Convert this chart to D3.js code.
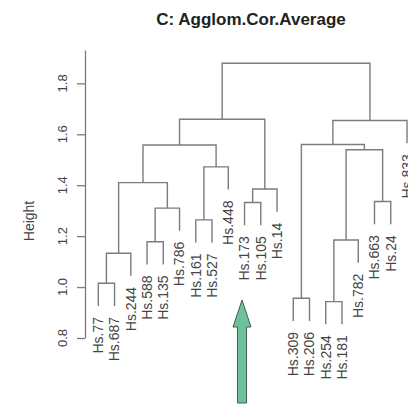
<!DOCTYPE html>
<html>
<head>
<meta charset="utf-8">
<script src="https://cdn.jsdelivr.net/npm/d3@7"></script>
<style>
  html, body { margin: 0; padding: 0; background: #fff; }
  svg { display: block; }
  text { font-family: "Liberation Sans", Arial, Helvetica, sans-serif; }
</style>
</head>
<body>
<div id="chart"></div>
<script>
// ---- data ----
const chartTitle = "C: Agglom.Cor.Average";
const yAxisLabel = "Height";
const leafLabels = ["Hs.77", "Hs.687", "Hs.244", "Hs.588", "Hs.135", "Hs.786", "Hs.161", "Hs.527", "Hs.448",
                    "Hs.173", "Hs.105", "Hs.14", "Hs.309", "Hs.206", "Hs.254", "Hs.181", "Hs.782", "Hs.663", "Hs.24", "Hs.833"];
// R hclust-style merge matrix: negative = leaf (1-based), positive = earlier merge (1-based)
const mergeLeft  = [-15, -13, -1, 3, -4, 1, -7, 5, -10, -18, 9, 4, 7, 6, 12, 2, 16, 15, 18];
const mergeRight = [-16, -14, -2, -3, -5, -17, -8, -6, -11, -19, -12, 8, -9, 10, 13, 14, -20, 11, 17];
const mergeHeights = [0.943, 0.956, 1.015, 1.133, 1.178, 1.185, 1.264, 1.310, 1.332, 1.336, 1.385, 1.410,
                      1.472, 1.539, 1.558, 1.560, 1.654, 1.659, 1.879];
const leafHang = 0.089;
const yTicks = [0.8, 1.0, 1.2, 1.4, 1.6, 1.8];
const yTop = 1.931;
const arrowLeaf = "Hs.173";

// ---- layout ----
const W = 408, H = 404;
const svg = d3.select("#chart").append("svg").attr("width", W).attr("height", H);

const x = d3.scaleLinear().domain([0, leafLabels.length - 1]).range([98.3, 407]);
const y = d3.scaleLinear().domain([0.8, yTop]).range([338, 50]);

const lineCol = "#7c7c7c";
const textCol = "#444";

// title
svg.append("text")
  .attr("x", 251).attr("y", 25)
  .attr("text-anchor", "middle")
  .attr("font-weight", "bold")
  .attr("font-size", 17)
  .attr("fill", "#222")
  .text(chartTitle);

// y axis
const axis = d3.axisLeft(y).tickValues(yTicks).tickSize(8).tickSizeOuter(0).tickFormat("");
const gAxis = svg.append("g").attr("transform", "translate(85,0)").call(axis);
gAxis.selectAll("path, line").attr("stroke", lineCol).attr("stroke-width", 1.3);

svg.append("g").selectAll("text").data(yTicks).join("text")
  .attr("transform", d => `translate(62,${y(d)}) rotate(-90)`)
  .attr("text-anchor", "middle")
  .attr("dy", "0.35em")
  .attr("font-size", 13)
  .attr("fill", textCol)
  .text(d => d3.format(".1f")(d));

svg.append("text")
  .attr("transform", `translate(29,221) rotate(-90)`)
  .attr("text-anchor", "middle")
  .attr("dy", "0.35em")
  .attr("font-size", 14)
  .attr("fill", textCol)
  .text(yAxisLabel);

// dendrogram
const mergeX = [];
const g = svg.append("g").attr("fill", "none").attr("stroke", lineCol).attr("stroke-width", 1.4);
const leafEnds = [];

function childPos(c, h) {
  if (c < 0) {
    const i = -c - 1;
    const hb = h - leafHang;
    leafEnds.push({ i, hb });
    return { px: x(i), ph: hb };
  }
  return { px: mergeX[c - 1], ph: mergeHeights[c - 1] };
}

mergeLeft.forEach((l, k) => {
  const h = mergeHeights[k];
  const a = childPos(l, h);
  const b = childPos(mergeRight[k], h);
  mergeX[k] = (a.px + b.px) / 2;
  const p = d3.path();
  p.moveTo(a.px, y(a.ph));
  p.lineTo(a.px, y(h));
  p.lineTo(b.px, y(h));
  p.lineTo(b.px, y(b.ph));
  g.append("path").attr("d", p.toString());
});

// leaf labels
svg.append("g").selectAll("text").data(leafEnds).join("text")
  .attr("transform", d => `translate(${x(d.i)},${y(d.hb) + 11}) rotate(-90)`)
  .attr("text-anchor", "end")
  .attr("dy", "0.35em")
  .attr("font-size", 14)
  .attr("fill", textCol)
  .text(d => leafLabels[d.i]);

// annotation arrow
const ax = x(leafLabels.indexOf(arrowLeaf)) - 2.5;
const arrow = d3.path();
arrow.moveTo(ax, 300);
arrow.lineTo(ax + 9, 327);
arrow.lineTo(ax + 4.5, 327);
arrow.lineTo(ax + 4.5, 403);
arrow.lineTo(ax - 4.5, 403);
arrow.lineTo(ax - 4.5, 327);
arrow.lineTo(ax - 9, 327);
arrow.closePath();
svg.append("path").attr("d", arrow.toString())
  .attr("fill", "#6cc39b").attr("stroke", "#4a5a52").attr("stroke-width", 1);
</script>
</body>
</html>
